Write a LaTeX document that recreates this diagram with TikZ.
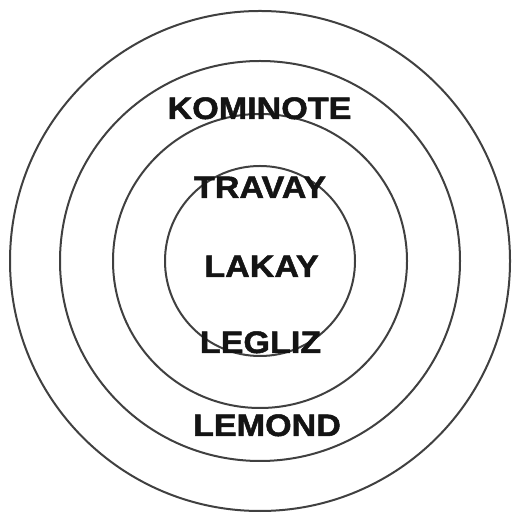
\documentclass[tikz,border=0pt]{standalone}
\usepackage{fontspec}
\setmainfont{Liberation Sans}[FakeStretch=1.1,BoldFeatures={FakeBold=1.6}]
\begin{document}
\begin{tikzpicture}[x=1pt,y=1pt,
  ring/.style={draw=black!75, line width=2pt},
  lbl/.style={anchor=base, inner sep=0pt, text=black!92, font=\fontsize{31}{31}\selectfont\bfseries}]
\useasboundingbox (0,0) rectangle (512,513);
\coordinate (c) at (260,252);
\draw[ring] (c) circle[radius=250];
\draw[ring] (c) circle[radius=200];
\draw[ring] (c) circle[radius=147];
\draw[ring] (c) circle[radius=95];
\node[lbl] (kominote) at (259.5,394) {KOMINOTE};
\node[lbl] (travay) at (260,315) {TRAVAY};
\node[lbl] (lakay) at (261.5,236) {LAKAY};
\node[lbl] (legliz) at (260.5,160) {LEGLIZ};
\node[lbl] (lemond) at (267,77) {LEMOND};
\end{tikzpicture}
\end{document}
